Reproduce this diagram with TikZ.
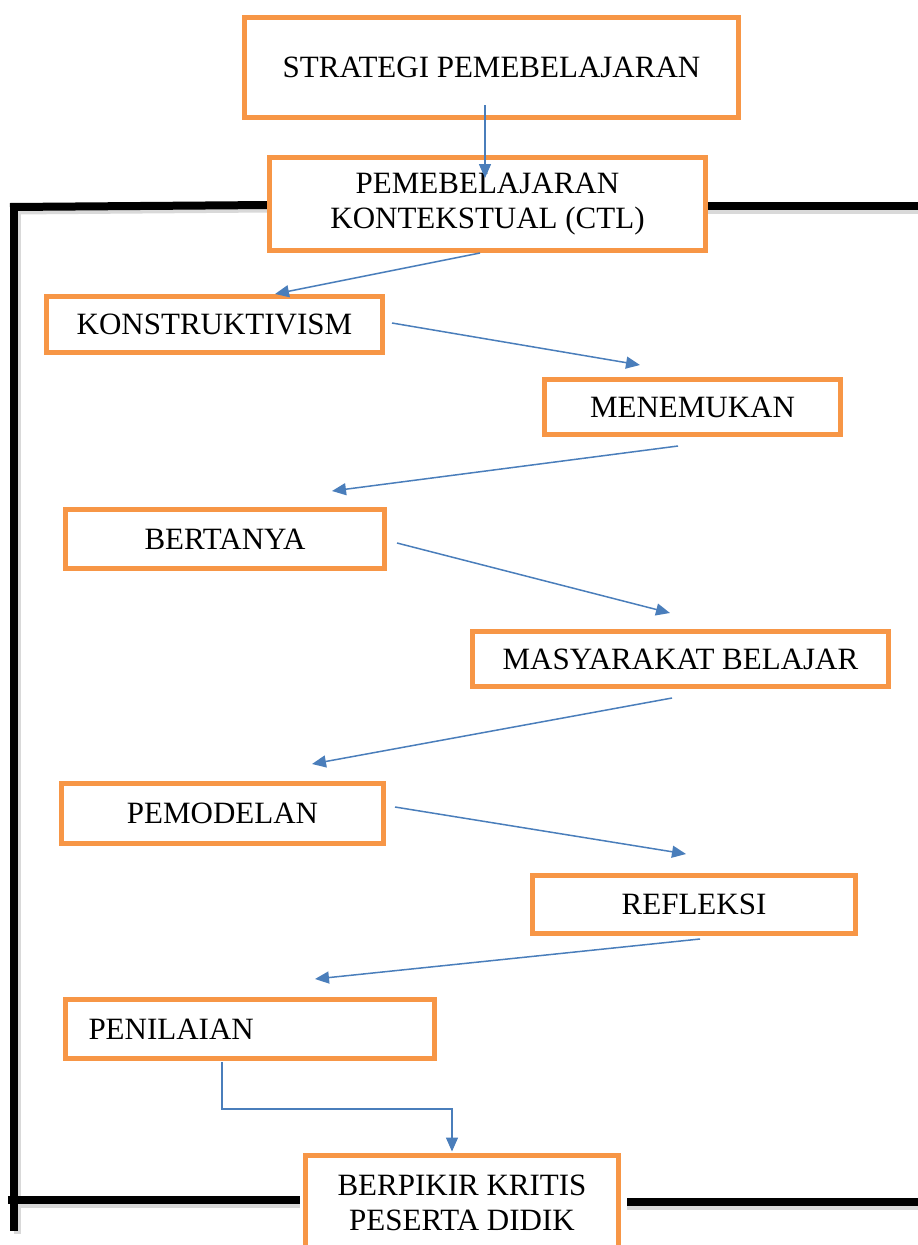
\documentclass[tikz,border=0pt]{standalone}
\usepackage{fontspec}
\setmainfont{Liberation Serif}
\usetikzlibrary{arrows.meta,calc}
\definecolor{boxorange}{HTML}{F79646}
\definecolor{arrblue}{HTML}{4A7EBB}
\tikzset{
  box/.style={draw=boxorange, line width=5pt, fill=white, inner sep=0pt, align=center,
    font=\fontsize{31}{35}\selectfont},
  arr/.style={draw=arrblue, line width=1.5pt, -{Triangle[length=14pt,width=12pt]}},
  frame/.style={draw=black, line width=8pt},
  frameshadow/.style={draw=black!15, line width=7pt},
}
\begin{document}
\begin{tikzpicture}[x=1pt,y=-1pt]
\useasboundingbox (0,0) rectangle (918,1245);
\begin{scope}
\clip (0,0) rectangle (918,1245);
% frame shadow
\draw[frameshadow] (17,210) -- (17,1234);
\draw[frameshadow] (14,211) -- (270,209);
\draw[frameshadow] (705,210) -- (918,210);
\draw[frameshadow] (10,1204) -- (300,1204);
\draw[frameshadow] (627,1206) -- (918,1206);
% frame
\draw[frame] (14,203) -- (14,1231);
\draw[frame] (10,207) -- (270,205);
\draw[frame] (705,206) -- (918,206);
\draw[frame] (8,1200) -- (300,1200);
\draw[frame] (627,1202) -- (918,1202);

\node[box, minimum width=494pt, minimum height=100pt] (s) at (491.5,67.5) {STRATEGI PEMEBELAJARAN};
\node[box, minimum width=436pt, minimum height=93pt] (ctl) at (487.5,204) {PEMEBELAJARAN\\KONTEKSTUAL (CTL)};
\node[box, minimum width=336pt, minimum height=56pt] (kon) at (214.5,324.5) {KONSTRUKTIVISM};
\node[box, minimum width=296pt, minimum height=55pt] (men) at (692.5,407) {MENEMUKAN};
\node[box, minimum width=319pt, minimum height=59pt] (ber) at (225,539) {BERTANYA};
\node[box, minimum width=416pt, minimum height=55pt] (mas) at (680.5,659) {MASYARAKAT BELAJAR};
\node[box, minimum width=322pt, minimum height=60pt] (pem) at (222.5,813.5) {PEMODELAN};
\node[box, minimum width=323pt, minimum height=58pt] (ref) at (694,904.5) {REFLEKSI};
\node[box, minimum width=369pt, minimum height=59pt, text width=323pt, inner xsep=23pt, align=left] (pen) at (250,1029) {PENILAIAN};
\node[box, minimum width=313pt, minimum height=96pt] (bpk) at (462,1203) {BERPIKIR KRITIS\\PESERTA DIDIK};

\draw[arr] ($(s.south)+(-6.5,-15)$) -- ($(ctl.north)+(-2.5,23)$);
\draw[arr] ($(ctl.south)+(-7.5,0)$) -- ($(kon.north)+(60.5,0)$);
\draw[arr] ($(kon.east)+(7,-1.5)$) -- ($(men.north)+(-52.5,-12)$);
\draw[arr] ($(men.south)+(-14.5,9)$) -- ($(ber.north)+(107,-16)$);
\draw[arr] ($(ber.east)+(10,4)$) -- ($(mas.north)+(-10.5,-16)$);
\draw[arr] ($(mas.south)+(-8.5,9)$) -- ($(pem.north)+(89.5,-17)$);
\draw[arr] ($(pem.east)+(9,-6.5)$) -- ($(ref.north)+(-8,-19)$);
\draw[arr] ($(ref.south)+(6,3)$) -- ($(pen.north)+(65,-18)$);
\draw[arr] ($(pen.south)+(-28,1)$) -- ++(0,47) -| ($(bpk.north)+(-10,-1)$);
\end{scope}
\end{tikzpicture}
\end{document}
